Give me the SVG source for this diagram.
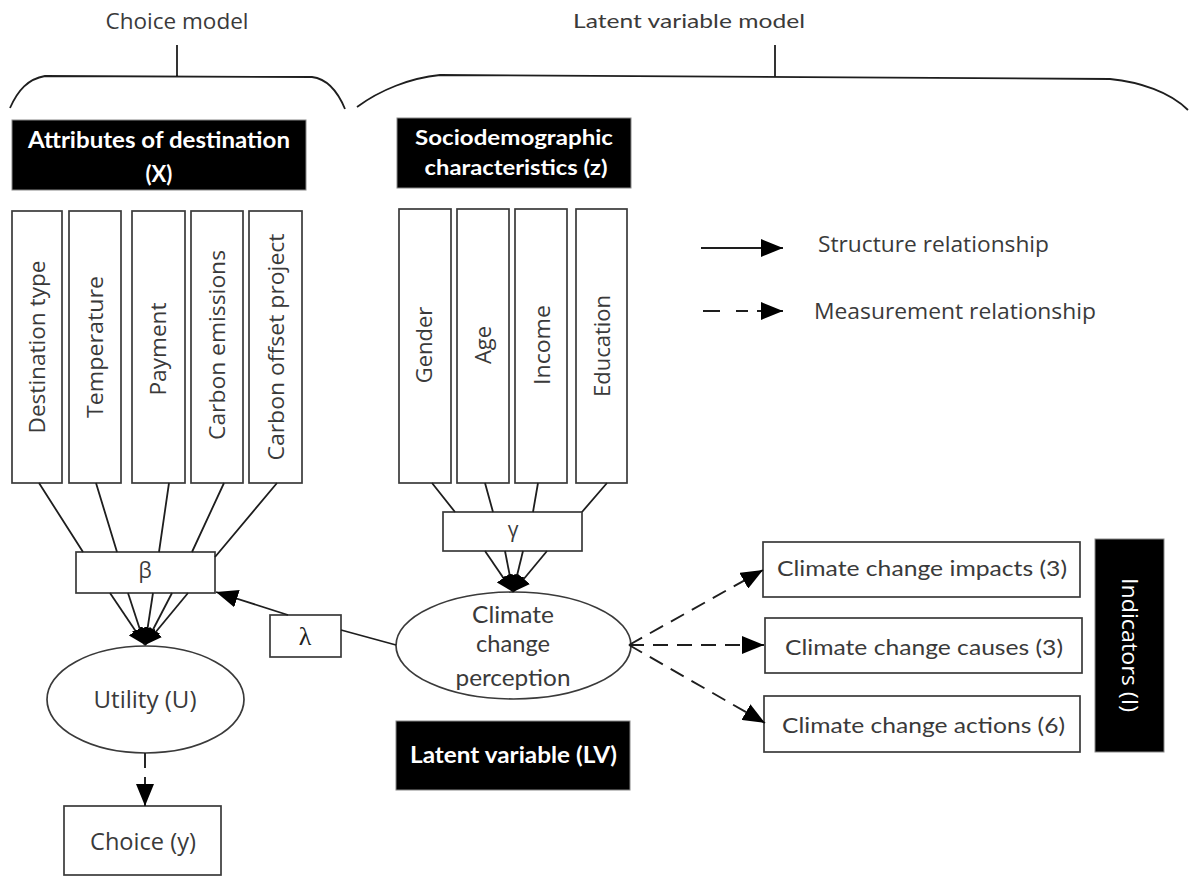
<svg xmlns="http://www.w3.org/2000/svg" width="1190" height="876" viewBox="0 0 1190 876">
<style>
.bx{fill:#fff;stroke:#3a3a3a;stroke-width:1.7}
.blk{fill:#000;stroke:#888;stroke-width:1}
.ln{fill:none;stroke:#1e1e1e;stroke-width:1.8}
.dl{fill:none;stroke:#1e1e1e;stroke-width:1.9;stroke-dasharray:15 9}
.os{font-family:"Open Sans","DejaVu Sans",sans-serif;fill:#3a3a3a}
.la{font-family:Lato,"Open Sans",sans-serif;fill:#3a3a3a}
.lab{font-family:Lato,"Open Sans",sans-serif;font-weight:700;fill:#fff}
.m{text-anchor:middle}
</style>
<defs>
<marker id="arr" markerUnits="userSpaceOnUse" markerWidth="23" markerHeight="18" refX="22" refY="9" orient="auto">
<path d="M0,0 L22,9 L0,18 z" fill="#000"/>
</marker>
<marker id="arrs" markerUnits="userSpaceOnUse" markerWidth="18" markerHeight="16" refX="17" refY="8" orient="auto">
<path d="M0,0 L17,8 L0,16 z" fill="#000"/>
</marker>
</defs>

<g id="braces">
<text class="os m" x="177" y="29" font-size="22" textLength="143" lengthAdjust="spacingAndGlyphs">Choice model</text>
<path class="ln" d="M177,45 V77 M10,108 C18,90 28,79 45,76 L312,77 C328,79 338,92 345,109"/>
<text class="la m" x="689" y="28" font-size="20" textLength="232" lengthAdjust="spacingAndGlyphs">Latent variable model</text>
<path class="ln" d="M775,45 V77 M357,107 C380,90 410,78 440,75 L1110,79 C1140,82 1170,92 1188,110"/>
</g>

<g id="attributes-header">
<rect class="blk" x="12" y="120" width="294" height="70"/>
<text class="lab m" x="159" y="148" font-size="22" textLength="262" lengthAdjust="spacingAndGlyphs">Attributes of destination</text>
<text class="lab m" x="159" y="182" font-size="22">(X)</text>
</g>

<g id="socio-header">
<rect class="blk" x="397" y="118" width="234" height="70"/>
<text class="lab m" x="514" y="145" font-size="21" textLength="198" lengthAdjust="spacingAndGlyphs">Sociodemographic</text>
<text class="lab m" x="516" y="175" font-size="21" textLength="183" lengthAdjust="spacingAndGlyphs">characteristics (z)</text>
</g>

<g id="destination-type"><rect class="bx" x="12" y="211" width="50" height="272"/>
<text class="os m" transform="translate(37,347) rotate(-90)" y="8" font-size="22" textLength="173" lengthAdjust="spacingAndGlyphs">Destination type</text></g>
<g id="temperature"><rect class="bx" x="69" y="211" width="52" height="272"/>
<text class="os m" transform="translate(95,347) rotate(-90)" y="8" font-size="22" textLength="142" lengthAdjust="spacingAndGlyphs">Temperature</text></g>
<g id="payment"><rect class="bx" x="132" y="211" width="53" height="272"/>
<text class="os m" transform="translate(158,349) rotate(-90)" y="8" font-size="22" textLength="93" lengthAdjust="spacingAndGlyphs">Payment</text></g>
<g id="carbon-emissions"><rect class="bx" x="191" y="211" width="52" height="272"/>
<text class="os m" transform="translate(217,345) rotate(-90)" y="8" font-size="22" textLength="190" lengthAdjust="spacingAndGlyphs">Carbon emissions</text></g>
<g id="carbon-offset"><rect class="bx" x="249" y="211" width="53" height="272"/>
<text class="os m" transform="translate(276,347) rotate(-90)" y="8" font-size="22" textLength="227" lengthAdjust="spacingAndGlyphs">Carbon offset project</text></g>

<g id="gender"><rect class="bx" x="399" y="209" width="52" height="274"/>
<text class="os m" transform="translate(424,345) rotate(-90)" y="8" font-size="22">Gender</text></g>
<g id="age"><rect class="bx" x="457" y="209" width="52" height="274"/>
<text class="os m" transform="translate(483,345) rotate(-90)" y="8" font-size="22">Age</text></g>
<g id="income"><rect class="bx" x="515" y="209" width="52" height="274"/>
<text class="os m" transform="translate(542,345) rotate(-90)" y="8" font-size="22" textLength="80" lengthAdjust="spacingAndGlyphs">Income</text></g>
<g id="education"><rect class="bx" x="576" y="209" width="51" height="274"/>
<text class="os m" transform="translate(602,346) rotate(-90)" y="8" font-size="22">Education</text></g>

<g id="legend">
<text class="os" x="818" y="252" font-size="22" textLength="231" lengthAdjust="spacingAndGlyphs">Structure relationship</text>
<text class="os" x="814" y="319" font-size="22" textLength="282" lengthAdjust="spacingAndGlyphs">Measurement relationship</text>
</g>

<g id="beta"><rect class="bx" x="76" y="552" width="139" height="41"/>
<text class="os m" x="145" y="578" font-size="21">β</text></g>
<g id="gamma"><rect class="bx" x="443" y="512" width="139" height="39"/>
<text class="os m" x="513" y="537" font-size="21">γ</text></g>
<g id="lambda"><rect class="bx" x="270" y="615" width="71" height="42"/>
<text class="m" x="305" y="645" font-size="26" font-family="'Liberation Serif','DejaVu Serif',serif" fill="#222">λ</text></g>

<g id="utility"><ellipse class="bx" cx="145.5" cy="699.5" rx="98.5" ry="53.5"/>
<text class="os m" x="145" y="708" font-size="23" textLength="103" lengthAdjust="spacingAndGlyphs">Utility (U)</text></g>
<g id="choice"><rect class="bx" x="64" y="806" width="157" height="69"/>
<text class="os m" x="143" y="850" font-size="23" textLength="106" lengthAdjust="spacingAndGlyphs">Choice (y)</text></g>

<g id="perception"><ellipse class="bx" cx="513.5" cy="645.5" rx="117.5" ry="53.5"/>
<text class="la m" x="513" y="623" font-size="24" textLength="82" lengthAdjust="spacingAndGlyphs">Climate</text>
<text class="la m" x="513" y="652" font-size="24" textLength="74" lengthAdjust="spacingAndGlyphs">change</text>
<text class="la m" x="513" y="686" font-size="24" textLength="115" lengthAdjust="spacingAndGlyphs">perception</text></g>
<g id="latent-label"><rect class="blk" x="396" y="721" width="234" height="69"/>
<text class="lab m" x="513.5" y="763" font-size="22" textLength="207" lengthAdjust="spacingAndGlyphs">Latent variable (LV)</text></g>

<g id="impacts"><rect class="bx" x="763" y="542" width="317" height="55"/>
<text class="la m" x="922" y="576" font-size="22" textLength="290" lengthAdjust="spacingAndGlyphs">Climate change impacts (3)</text></g>
<g id="causes"><rect class="bx" x="765" y="618" width="317" height="55"/>
<text class="la m" x="924" y="655" font-size="22" textLength="278" lengthAdjust="spacingAndGlyphs">Climate change causes (3)</text></g>
<g id="actions"><rect class="bx" x="764" y="696" width="316" height="56"/>
<text class="la m" x="923.5" y="733" font-size="22" textLength="283" lengthAdjust="spacingAndGlyphs">Climate change actions (6)</text></g>
<g id="indicators"><rect class="blk" x="1095" y="539" width="69" height="213"/>
<text class="os m" transform="translate(1129.5,645) rotate(90)" y="8" font-size="21" fill="#fff" style="fill:#fff" textLength="134" lengthAdjust="spacingAndGlyphs">Indicators (I)</text></g>

<g id="connectors">
<path class="ln" d="M39,483 L83,552 M96,483 L117,552 M169,483 L159,552 M224,483 L192,552 M277,483 L215,557"/>
<line class="ln" x1="110" y1="593" x2="145" y2="645" marker-end="url(#arrs)"/>
<line class="ln" x1="128" y1="593" x2="145" y2="645" marker-end="url(#arrs)"/>
<line class="ln" x1="153" y1="593" x2="145" y2="645" marker-end="url(#arrs)"/>
<line class="ln" x1="172" y1="593" x2="145" y2="645" marker-end="url(#arrs)"/>
<line class="ln" x1="188" y1="593" x2="145" y2="645" marker-end="url(#arrs)"/>
<path class="ln" d="M432,483 L455,512 M485,483 L493,512 M538,483 L533,512 M607,483 L582,512"/>
<line class="ln" x1="485" y1="551" x2="513" y2="592" marker-end="url(#arrs)"/>
<line class="ln" x1="505" y1="551" x2="513" y2="592" marker-end="url(#arrs)"/>
<line class="ln" x1="523" y1="551" x2="513" y2="592" marker-end="url(#arrs)"/>
<line class="ln" x1="547" y1="551" x2="513" y2="592" marker-end="url(#arrs)"/>
<line class="ln" x1="288" y1="615" x2="216" y2="592" marker-end="url(#arr)"/>
<line class="ln" x1="341" y1="630" x2="396" y2="645"/>
<line class="dl" x1="145" y1="753" x2="145" y2="806" stroke-dasharray="17 8" marker-end="url(#arr)"/>
<line class="dl" x1="629" y1="645" x2="763" y2="570" marker-end="url(#arr)"/>
<line class="dl" x1="629" y1="645" x2="764" y2="645" marker-end="url(#arr)"/>
<line class="dl" x1="629" y1="645" x2="765" y2="723" marker-end="url(#arr)"/>
<line class="ln" x1="701" y1="248" x2="783" y2="248" stroke-width="2.2" marker-end="url(#arr)"/>
<path class="ln" d="M703,311 H720 M736,311 H748 M757,311 H783" stroke-width="2" marker-end="url(#arr)"/>
</g>
</svg>
